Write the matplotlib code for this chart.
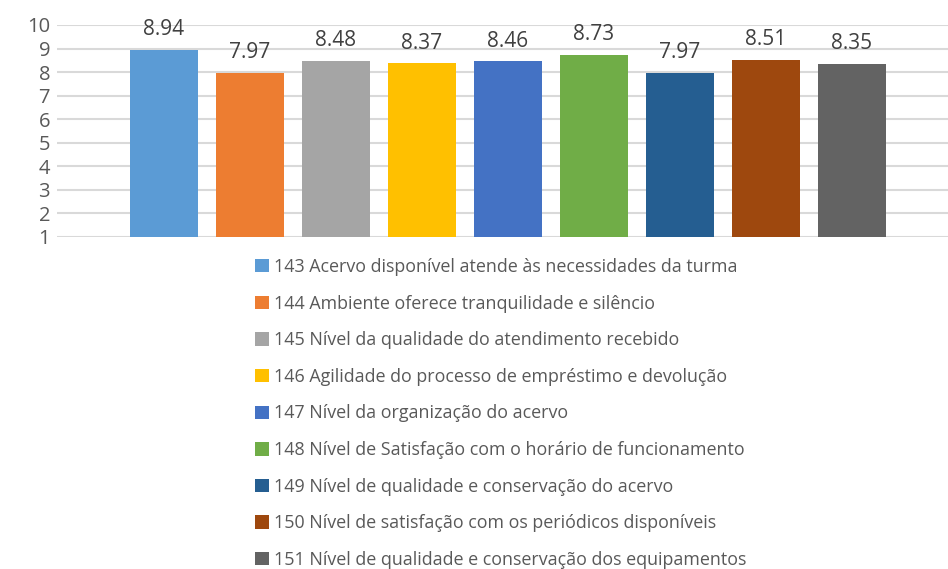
import matplotlib.pyplot as plt
from matplotlib.patches import Patch

labels = [
    '143 Acervo disponível atende às necessidades da turma',
    '144 Ambiente oferece tranquilidade e silêncio',
    '145 Nível da qualidade do atendimento recebido',
    '146 Agilidade do processo de empréstimo e devolução',
    '147 Nível da organização do acervo',
    '148 Nível de Satisfação com o horário de funcionamento',
    '149 Nível de qualidade e conservação do acervo',
    '150 Nível de satisfação com os periódicos disponíveis',
    '151 Nível de qualidade e conservação dos equipamentos',
]
values = [8.94, 7.97, 8.48, 8.37, 8.46, 8.73, 7.97, 8.51, 8.35]
colors = ['#5B9BD5', '#ED7D31', '#A5A5A5', '#FFC000', '#4472C4',
          '#70AD47', '#255E91', '#9E480E', '#636363']
yticks = list(range(1, 11))

txt = '#595959'
plt.rcParams['font.family'] = ['Open Sans', 'DejaVu Sans']

fig = plt.figure(figsize=(9.48, 5.69), dpi=100)
ax = fig.add_axes([57/948, 1-237/569, 1-57/948, (237-25)/569])

base = 1
for i, (v, c) in enumerate(zip(values, colors)):
    ax.bar(i, v - base, bottom=base, width=0.79, color=c, zorder=3)
    ax.annotate('{:.2f}'.format(v), (i, v), xytext=(0, 7), textcoords='offset points',
                ha='center', va='bottom', fontsize=15, color='#404040')

ax.set_ylim(1, 10)
ax.set_xlim(-1.244, 9.12)
ax.set_yticks(yticks)
ax.set_xticks([])
ax.grid(axis='y', color='#d9d9d9', linewidth=1.5, zorder=0)
for s in ax.spines.values():
    s.set_visible(False)
ax.tick_params(axis='y', length=0, labelsize=14.5, labelcolor=txt, pad=5)

handles = [Patch(facecolor=c) for c in colors]
fig.legend(handles, labels, loc='upper left', bbox_to_anchor=(246/948, 1-249/569),
           frameon=False, fontsize=12.9, labelcolor=txt, handlelength=0.77, handleheight=0.77,
           handletextpad=0.28, labelspacing=1.04, borderpad=0)

fig.savefig('out.png', dpi=100)
